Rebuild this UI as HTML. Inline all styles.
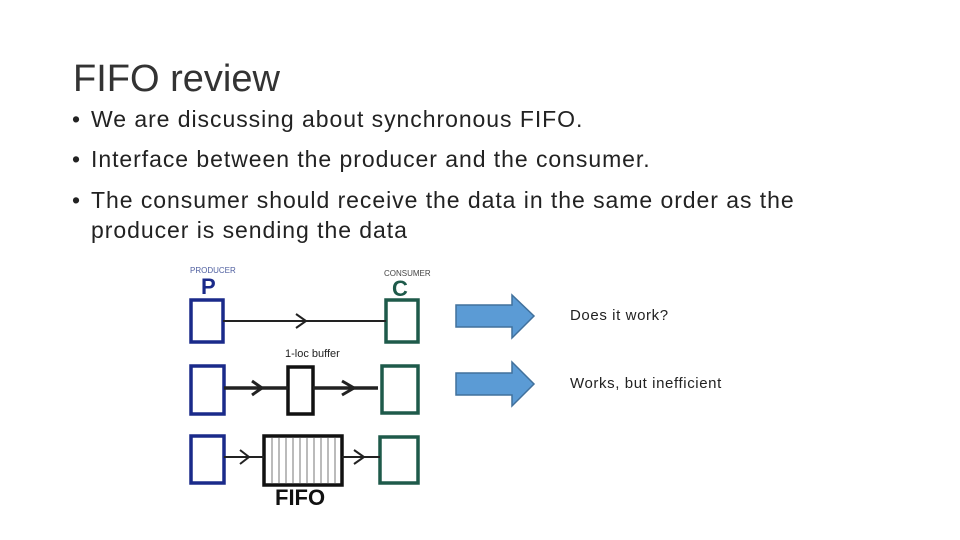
<!DOCTYPE html>
<html><head><style>
body{margin:0;width:960px;height:540px;background:#fff;position:relative;overflow:hidden;font-family:"Liberation Sans",sans-serif;color:#222}
.t{position:absolute;white-space:nowrap}
.b{font-size:23px;line-height:30px;letter-spacing:0.95px}
</style></head><body>
<div class="t" style="left:73px;top:58px;font-size:38px;color:#333">FIFO review</div>
<div class="t b" style="left:72px;top:104px">•</div><div class="t b" style="left:91px;top:104px">We are discussing about synchronous FIFO.</div>
<div class="t b" style="left:72px;top:144px">•</div><div class="t b" style="left:91px;top:144px">Interface between the producer and the consumer.</div>
<div class="t b" style="left:72px;top:185px">•</div><div class="t b" style="left:91px;top:185px">The consumer should receive the data in the same order as the</div>
<div class="t b" style="left:91px;top:215px">producer is sending the data</div>
<div class="t" style="left:570px;top:307px;font-size:15px;letter-spacing:0.6px">Does it work?</div>
<div class="t" style="left:570px;top:375px;font-size:15px;letter-spacing:0.6px">Works, but inefficient</div>
<svg width="960" height="540" style="position:absolute;left:0;top:0">
<g fill="#5b9bd5" stroke="#41719c" stroke-width="1.5">
<polygon points="456,305 512,305 512,295 534,316 512,338 512,327 456,327"/>
<polygon points="456,373 512,373 512,362 534,384 512,406 512,395 456,395"/>
</g>
<text x="190" y="273" font-size="8" fill="#5060a0" font-family="Liberation Sans">PRODUCER</text>
<text x="384" y="276" font-size="8" fill="#444" font-family="Liberation Sans">CONSUMER</text>
<text x="201" y="294" font-size="22" font-weight="bold" fill="#1a2a8a" font-family="Liberation Sans">P</text>
<text x="392" y="296" font-size="22" font-weight="bold" fill="#1e5a4a" font-family="Liberation Sans">C</text>
<text x="285" y="357" font-size="11" fill="#222" font-family="Liberation Sans">1-loc buffer</text>
<g fill="none" stroke-width="3.5">
<rect x="191" y="300" width="32" height="42" stroke="#1a2a8a"/>
<rect x="386" y="300" width="32" height="42" stroke="#1e5a4a"/>
<rect x="191" y="366" width="33" height="48" stroke="#1a2a8a"/>
<rect x="288" y="367" width="25" height="47" stroke="#111"/>
<rect x="382" y="366" width="36" height="47" stroke="#1e5a4a"/>
<rect x="191" y="436" width="33" height="47" stroke="#1a2a8a"/>
<rect x="264" y="436" width="78" height="49" stroke="#111"/>
<rect x="380" y="437" width="38" height="46" stroke="#1e5a4a"/>
</g>
<g stroke="#222" fill="none">
<line x1="223" y1="321" x2="386" y2="321" stroke-width="2"/>
<polyline points="296,314 306,321 296,328" stroke-width="2"/>
<line x1="224" y1="388" x2="288" y2="388" stroke-width="3.5"/>
<polyline points="252,381 262,388 252,395" stroke-width="3"/>
<line x1="313" y1="388" x2="378" y2="388" stroke-width="3.5"/>
<polyline points="342,381 354,388 342,395" stroke-width="3"/>
<line x1="224" y1="457" x2="264" y2="457" stroke-width="2"/>
<polyline points="240,450 249,457 240,464" stroke-width="2"/>
<line x1="342" y1="457" x2="380" y2="457" stroke-width="2"/>
<polyline points="354,450 364,457 354,464" stroke-width="2"/>
</g>
<g stroke="#777" stroke-width="1">
<line x1="272" y1="438" x2="272" y2="483"/><line x1="279" y1="438" x2="279" y2="483"/>
<line x1="286" y1="438" x2="286" y2="483"/><line x1="293" y1="438" x2="293" y2="483"/>
<line x1="300" y1="438" x2="300" y2="483"/><line x1="307" y1="438" x2="307" y2="483"/>
<line x1="314" y1="438" x2="314" y2="483"/><line x1="321" y1="438" x2="321" y2="483"/>
<line x1="328" y1="438" x2="328" y2="483"/><line x1="335" y1="438" x2="335" y2="483"/>
</g>
<text x="275" y="505" font-size="22" font-weight="bold" fill="#111" font-family="Liberation Sans">FIFO</text>
</svg>
</body></html>
